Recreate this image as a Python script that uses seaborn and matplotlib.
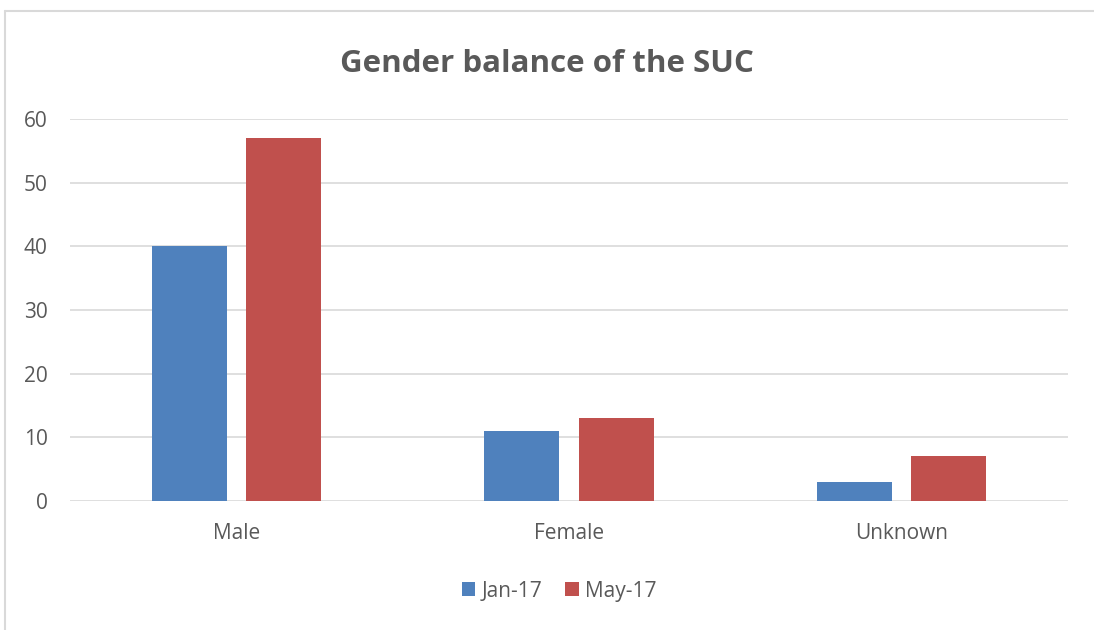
import matplotlib
matplotlib.use("Agg")
import matplotlib.pyplot as plt
import seaborn as sns
import pandas as pd
from matplotlib.lines import Line2D

# data
categories = ["Male", "Female", "Unknown"]
series_names = ["Jan-17", "May-17"]
jan_values = [40, 11, 3]
may_values = [57, 13, 7]
colors = ["#4F81BD", "#C0504D"]

df = pd.DataFrame({
    "gender": categories * 2,
    "period": [series_names[0]] * 3 + [series_names[1]] * 3,
    "count": jan_values + may_values,
})

sns.set_theme(style="white")
plt.rcParams["font.family"] = ["Open Sans", "DejaVu Sans"]
text_color = "#595959"

fig = plt.figure(figsize=(10.94, 6.3), dpi=100)
ax = fig.add_axes([0.064, 0.2048, 0.912, 0.6063])

sns.barplot(data=df, x="gender", y="count", hue="period", order=categories,
            hue_order=series_names, palette=colors, width=0.568, gap=0.206,
            saturation=1, linewidth=0, ax=ax, legend=True)

ax.set_ylim(0, 60)
ax.set_yticks(range(0, 61, 10))
ax.yaxis.grid(True, color="#d9d9d9", linewidth=1.2)
ax.set_axisbelow(True)
for s in ax.spines.values():
    s.set_visible(False)
ax.tick_params(axis="both", length=0, labelsize=15, colors=text_color)
ax.tick_params(axis="y", pad=16)
ax.tick_params(axis="x", pad=16)
ax.set_xlabel("")
ax.set_ylabel("")

fig.text(0.5, 0.899, "Gender balance of the SUC", ha="center", va="center",
         fontsize=22.5, fontweight="bold", color=text_color)

ax.legend(loc="center", bbox_to_anchor=(0.511, 0.0618), bbox_transform=fig.transFigure,
          ncol=2, frameon=False, fontsize=15, labelcolor=text_color,
          handlelength=0.65, handleheight=0.65, handletextpad=0.3, columnspacing=1.1)

# light chart-area border: only left and top edges show in the reference
x0, y0 = 4.5 / 1094, 1 - 10.5 / 630
fig.lines.append(Line2D([x0, x0], [0, y0], transform=fig.transFigure,
                        color="#d9d9d9", linewidth=1.5))
fig.lines.append(Line2D([x0, 1], [y0, y0], transform=fig.transFigure,
                        color="#d9d9d9", linewidth=1.5))

fig.savefig("out.png", dpi=100)
